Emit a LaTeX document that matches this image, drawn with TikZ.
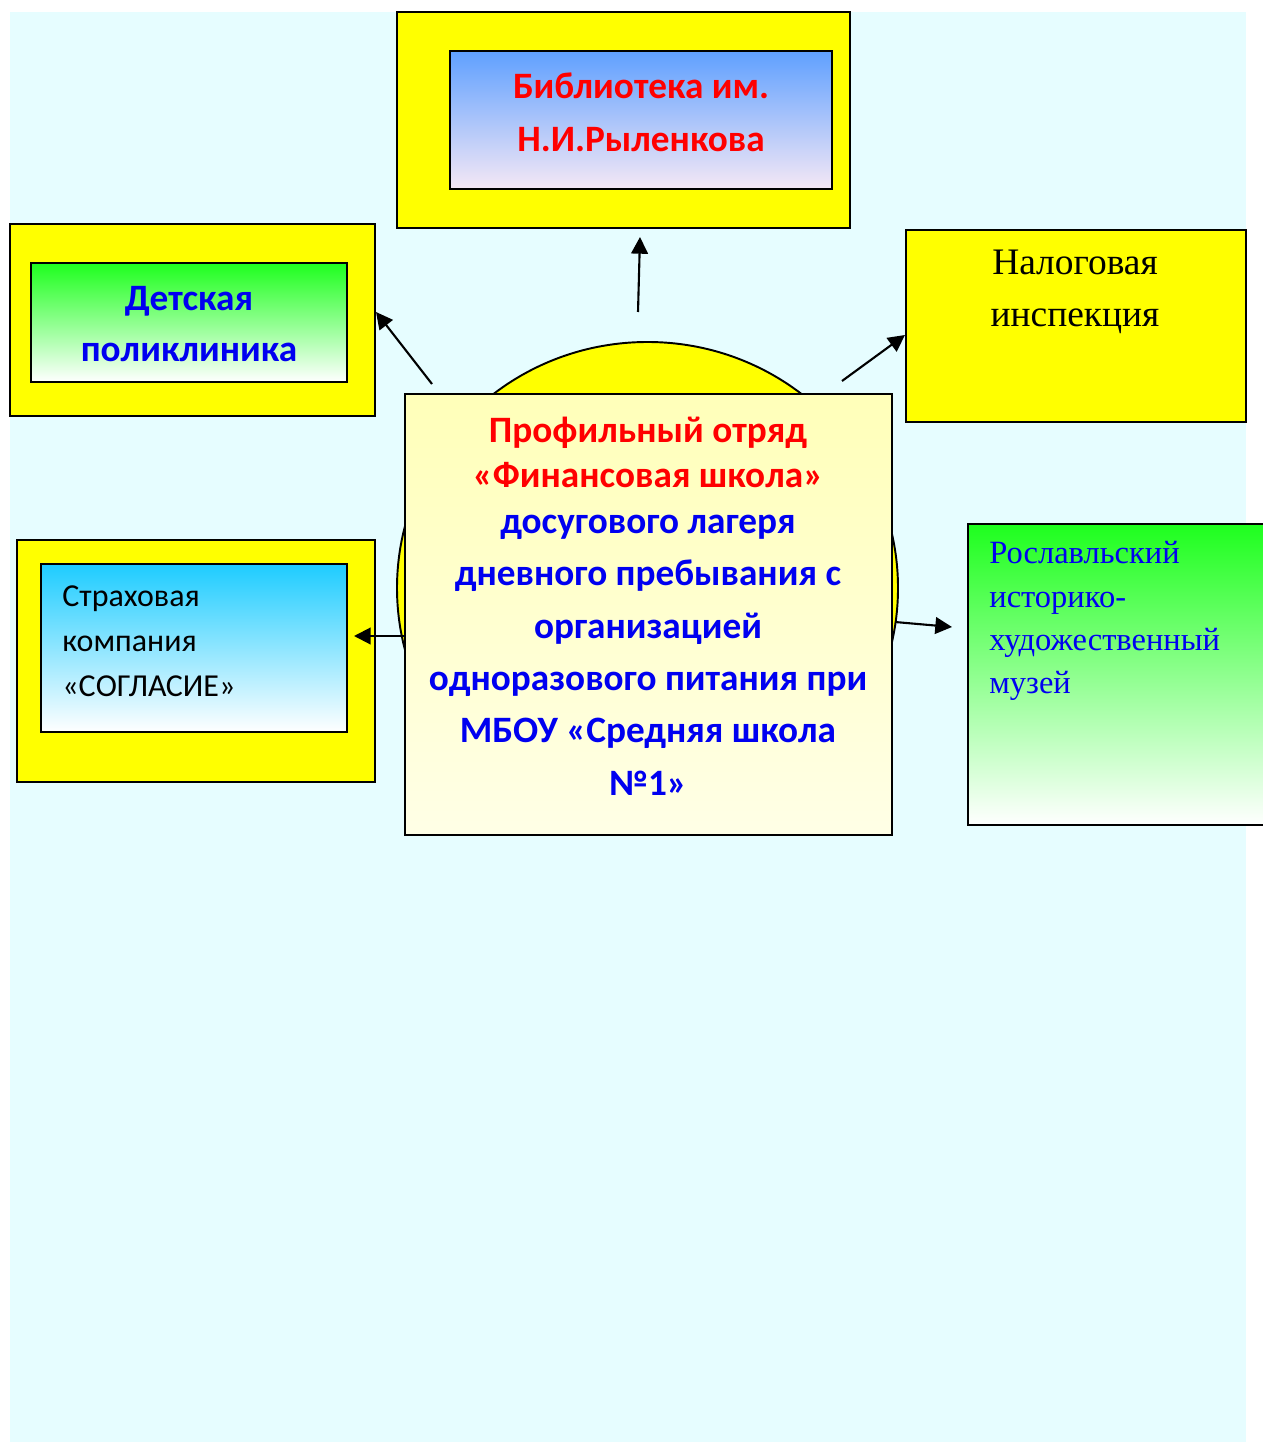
\documentclass[tikz,border=0pt]{standalone}
\usepackage{fontspec}
\setmainfont{Liberation Serif}
\newfontfamily\calibri{Carlito}
\usetikzlibrary{arrows.meta}

\definecolor{hgcyan}{RGB}{230,253,255}
\definecolor{gelb}{RGB}{255,255,0}
\definecolor{bibblau}{RGB}{95,160,255}
\definecolor{bibrosa}{RGB}{245,232,245}
\definecolor{gruen}{RGB}{30,255,30}
\definecolor{himmel}{RGB}{30,204,255}
\definecolor{hellgelb}{RGB}{255,255,185}
\definecolor{blassgelb}{RGB}{255,255,230}
\definecolor{textrot}{RGB}{255,0,0}
\definecolor{textblau}{RGB}{0,0,240}

\tikzset{
	rahmen/.style={line width=1.1pt, draw=black, fill=gelb},
	innen/.style={line width=1.1pt, draw=black},
	pfeil/.style={line width=1.2pt, -{Triangle[length=9.5pt,width=9.5pt]}},
}

\begin{document}
\begin{tikzpicture}[x=0.02cm, y=-0.02cm]
	\useasboundingbox (0,0) rectangle (1263,1442);
	% Hintergrund
	\fill[hgcyan] (10,12) rectangle (1246,1442);
	% Kreis hinter dem Mittelfeld
	\filldraw[line width=1.1pt, fill=gelb] (647.5,588) ellipse [x radius=250.5,
	y radius=246];
	% Bibliothek oben
	\filldraw[rahmen] (397,12) rectangle (850,228);
	\shadedraw[innen, top color=bibblau, bottom color=bibrosa] (450,51) rectangle
	(832,189);
	\node[align=center, text=textrot, font=\calibri\bfseries\fontsize{21.2}{30}\selectfont]
	(bib) at (641,112) {Библиотека им.\\Н.И.Рыленкова};
	% Poliklinik links oben
	\filldraw[rahmen] (10,224) rectangle (375,416);
	\shadedraw[innen, top color=gruen, middle color=gruen!35!white,
	bottom color=white] (31,263) rectangle (347,382);
	\node[align=center, text=textblau, font=\calibri\bfseries\fontsize{21.2}{29.5}\selectfont]
	(klinik) at (189,324) {Детская\\поликлиника};
	% Steuer rechts oben
	\filldraw[rahmen] (906,230) rectangle (1246,422);
	\node[align=center, font=\fontsize{21.3}{29.5}\selectfont]
	(steuer) at (1075,292) {Налоговая\\инспекция};
	% Versicherung links unten
	\filldraw[rahmen] (17,540) rectangle (375,782);
	\shadedraw[innen, top color=himmel, bottom color=white] (41,564) rectangle
	(347,732);
	\node[align=left, anchor=west, inner sep=0pt, font=\calibri\fontsize{18.2}{25.5}\selectfont]
	(versich) at (62,641) {Страховая\\компания\\«СОГЛАСИЕ»};
	% Museum rechts
	\shadedraw[innen, top color=gruen, middle color=gruen!35!white,
	bottom color=white] (968,524) rectangle (1280,825);
	\node[align=left, anchor=west, inner sep=0pt, text=textblau,
	font=\fontsize{18.5}{24.6}\selectfont]
	(museum) at (989,621) {Рославльский\\историко-\\художественный\\музей};
	% Mittelfeld
	\shadedraw[innen, top color=hellgelb, bottom color=blassgelb] (405,394)
	rectangle (892,835);
	\node[align=center, text=textblau, font=\calibri\bfseries\fontsize{21.2}{29.8}\selectfont]
	(zentrum) at (648,606) {{\color{textrot}Профильный отряд}\\[-3.8pt]
	{\color{textrot}«Финансовая школа»}\\[-3.8pt]
	досугового лагеря\\дневного пребывания с\\организацией\\
	одноразового питания при\\МБОУ «Средняя школа\\№1»};
	% Pfeile
	\coordinate (bib-a) at (638,312);
	\coordinate (bib-b) at (640,237);
	\coordinate (klinik-a) at (432,384);
	\coordinate (klinik-b) at (376,312);
	\coordinate (steuer-a) at (842,381);
	\coordinate (steuer-b) at (905,335);
	\coordinate (versich-a) at (405,636);
	\coordinate (versich-b) at (354,636);
	\coordinate (museum-a) at (895,622);
	\coordinate (museum-b) at (952,627);
	\draw[pfeil] (bib-a) -- (bib-b);
	\draw[pfeil] (klinik-a) -- (klinik-b);
	\draw[pfeil] (steuer-a) -- (steuer-b);
	\draw[pfeil] (versich-a) -- (versich-b);
	\draw[pfeil] (museum-a) -- (museum-b);
\end{tikzpicture}
\end{document}
